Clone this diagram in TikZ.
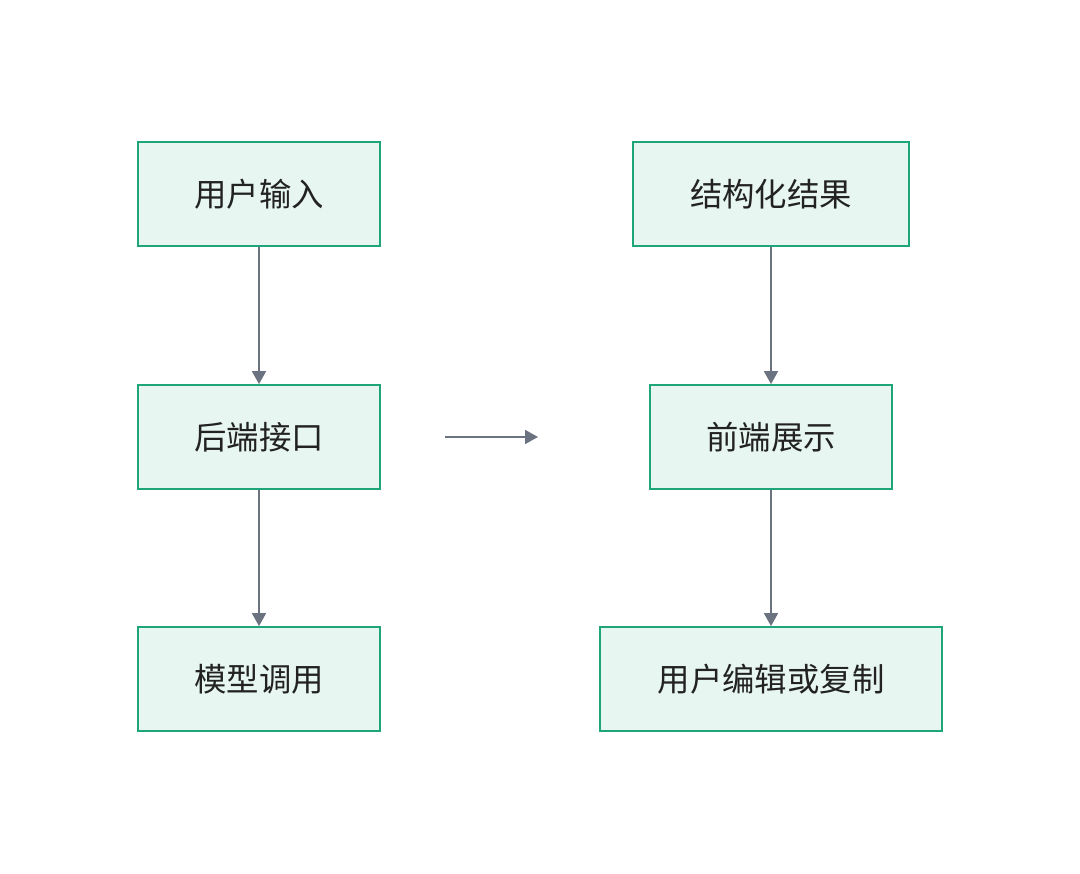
\documentclass[tikz,border=0pt]{standalone}
\usepackage{fontspec}
\newfontfamily\cjk{Noto Sans CJK SC}
\usetikzlibrary{arrows.meta}
\definecolor{boxline}{HTML}{1FA57A}
\definecolor{boxfill}{HTML}{E7F6F0}
\definecolor{arrowc}{HTML}{6B7280}
\definecolor{textc}{HTML}{222222}
\tikzset{
  flowbox/.style={draw=boxline, fill=boxfill, line width=1.8pt, minimum height=104pt, inner sep=0pt, font=\cjk\fontsize{32.4}{38}\selectfont, text=textc},
  flowarrow/.style={draw=arrowc, line width=1.8pt, -{Triangle[width=14pt,length=13pt]}}
}
\begin{document}
\begin{tikzpicture}[x=1pt,y=-1pt]
\useasboundingbox (0,0) rectangle (1080,874);
\fill[white] (0,0) rectangle (1080,874);
\node[flowbox, minimum width=242pt] (a) at (259,194) {用户输入};
\node[flowbox, minimum width=242pt] (b) at (259,437) {后端接口};
\node[flowbox, minimum width=242pt] (c) at (259,679) {模型调用};
\node[flowbox, minimum width=276pt] (d) at (771,194) {结构化结果};
\node[flowbox, minimum width=242pt] (e) at (771,437) {前端展示};
\node[flowbox, minimum width=342pt] (f) at (771,679) {用户编辑或复制};
\coordinate (m1) at (445,437);
\coordinate (m2) at (538,437);
\draw[flowarrow] (a) -- (b);
\draw[flowarrow] (b) -- (c);
\draw[flowarrow] (d) -- (e);
\draw[flowarrow] (e) -- (f);
\draw[flowarrow] (m1) -- (m2);
\end{tikzpicture}
\end{document}
